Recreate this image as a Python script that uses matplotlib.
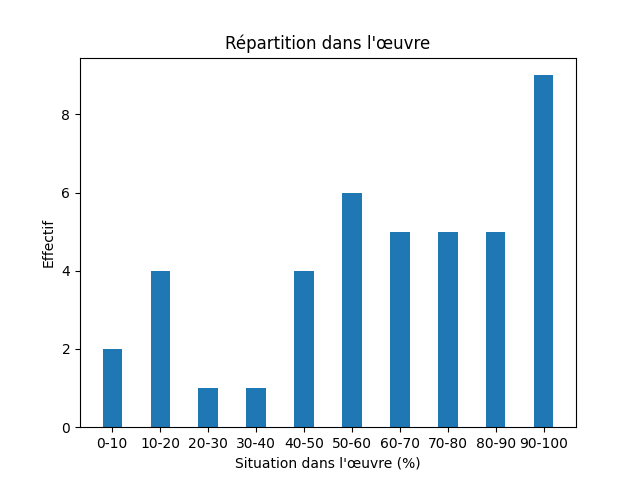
import matplotlib
matplotlib.use("Agg")
import matplotlib.pyplot as plt

categories = ["0-10", "10-20", "20-30", "30-40", "40-50", "50-60", "60-70", "70-80", "80-90", "90-100"]
counts = [2, 4, 1, 1, 4, 6, 5, 5, 5, 9]

fig, ax = plt.subplots(figsize=(6.4, 4.8), dpi=100)
ax.bar(categories, counts, width=0.4, color="#1f77b4")
ax.set_title("Répartition dans l'œuvre")
ax.set_xlabel("Situation dans l'œuvre (%)")
ax.set_ylabel("Effectif")
fig.savefig("out.png")
